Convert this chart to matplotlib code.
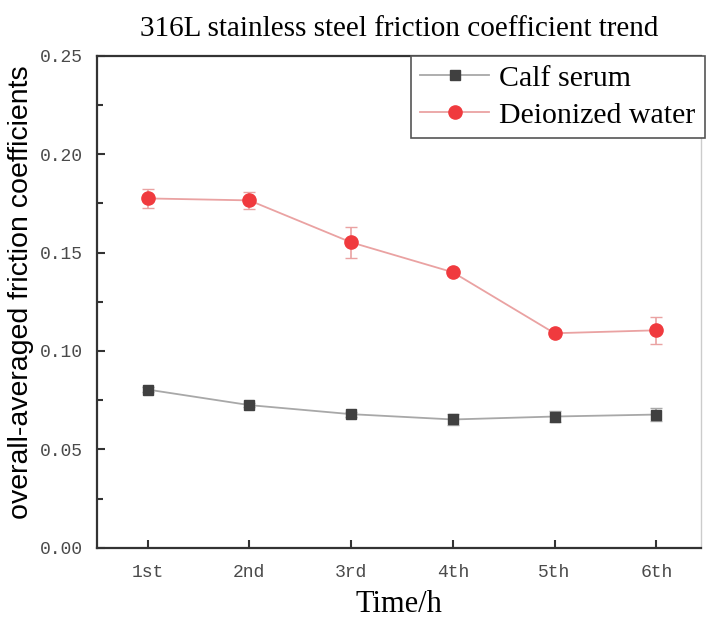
import matplotlib
matplotlib.use("Agg")
import matplotlib.pyplot as plt
from matplotlib.ticker import MultipleLocator, FormatStrFormatter

# data
times = ["1st", "2nd", "3rd", "4th", "5th", "6th"]
calf_serum = [0.0804, 0.0725, 0.0679, 0.0652, 0.0667, 0.0677]
calf_err = [0.0012, 0.0012, 0.0012, 0.0030, 0.0030, 0.0035]
water = [0.1775, 0.1765, 0.1552, 0.1400, 0.1090, 0.1105]
water_err = [0.0050, 0.0045, 0.0078, 0.0012, 0.0015, 0.0070]

fig = plt.figure(figsize=(7.06, 6.19), dpi=100)
ax = fig.add_axes([0.137, 0.115, 0.856, 0.795])

x = list(range(len(times)))
c1 = ax.errorbar(x, calf_serum, yerr=calf_err, color="#a8a8a8", lw=1.3,
                 marker="s", ms=7.5, mfc="#404040", mec="#404040",
                 ecolor="#a8a8a8", elinewidth=1.2, capsize=4)
c2 = ax.errorbar(x, water, yerr=water_err, color="#eaa2a2", lw=1.3,
                 marker="o", ms=9.5, mfc="#f03a3e", mec="#f03a3e",
                 ecolor="#eaa2a2", elinewidth=1.2, capsize=4)

ax.set_xlim(-0.5, 5.44)
ax.set_ylim(0, 0.25)
ax.set_xticks(x)
ax.set_xticklabels(times)
ax.yaxis.set_major_locator(MultipleLocator(0.05))
ax.yaxis.set_minor_locator(MultipleLocator(0.025))
ax.yaxis.set_major_formatter(FormatStrFormatter("%.2f"))
ax.tick_params(which="both", direction="in", width=1.5, colors="#333333",
               labelcolor="#4a4a4a", labelsize=13)
ax.tick_params(axis="y", pad=10)
ax.tick_params(axis="x", pad=12)
ax.tick_params(which="major", length=6)
ax.tick_params(which="minor", length=4)
for lab in ax.get_xticklabels() + ax.get_yticklabels():
    lab.set_family("Liberation Mono")
for sp in ax.spines.values():
    sp.set_linewidth(1.6)
    sp.set_color("#333333")
ax.spines["right"].set_color("#cccccc")
ax.spines["right"].set_linewidth(1.0)

ax.set_title("316L stainless steel friction coefficient trend",
             family="Liberation Serif", fontsize=21, pad=14)
ax.set_xlabel("Time/h", family="Liberation Serif", fontsize=22, labelpad=6)
ax.set_ylabel("overall-averaged friction coefficients",
              family="Liberation Sans", fontsize=20.5)
ax.yaxis.set_label_coords(-0.103, 0.52)

leg = ax.legend([c1[0], c2[0]], ["Calf serum", "Deionized water"],
                loc="upper right", bbox_to_anchor=(1.006, 1.0),
                borderaxespad=0, fancybox=False, framealpha=1,
                prop={"family": "Liberation Serif", "size": 21.5},
                handlelength=2.3, labelspacing=0.35, borderpad=0.3,
                handletextpad=0.35)
leg.get_frame().set_edgecolor("#555555")
leg.get_frame().set_linewidth(1.2)

fig.savefig("out.png", dpi=100)
